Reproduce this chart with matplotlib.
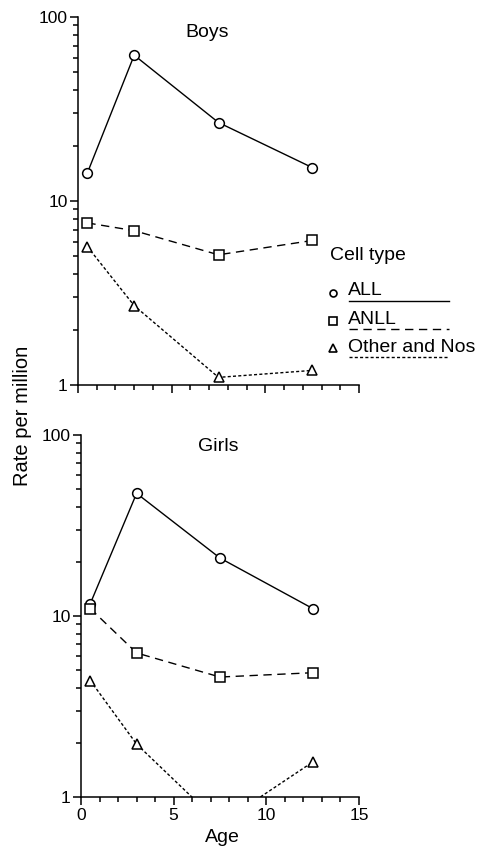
import numpy as np
import matplotlib
matplotlib.use("Agg")
import matplotlib.pyplot as plt
from matplotlib.lines import Line2D
from matplotlib.ticker import FixedLocator, NullFormatter

plt.rcParams['font.family'] = ['Liberation Sans', 'DejaVu Sans']

# data
ages = [0.5, 3, 7.5, 12.5]
cell_types = ["ALL", "ANLL", "Other and Nos"]
boys_all = [14.2, 62, 26.7, 15.2]
boys_anll = [7.6, 6.9, 5.1, 6.1]
boys_other = [5.65, 2.7, 1.1, 1.2]
girls_all = [11.7, 47.6, 20.9, 11.0]
girls_anll = [11.0, 6.25, 4.6, 4.86]
girls_other = [4.4, 1.96, 0.71, 1.56]

# marker / line style per cell type (legend marker size last)
styles = {
    "ALL": dict(marker='o', linestyle='-', lms=5),
    "ANLL": dict(marker='s', linestyle=(0, (6, 4)), lms=5.5),
    "Other and Nos": dict(marker='^', linestyle=(0, (2.2, 1.6)), lms=6),
}

W, H = 496, 849
fig = plt.figure(figsize=(W / 100, H / 100), dpi=100)

def px_axes(left, right, top, bottom):
    return fig.add_axes([left / W, 1 - bottom / H, (right - left) / W, (bottom - top) / H])

def fx(x):
    return x / W

def fy(y):
    return 1 - y / H

ax1 = px_axes(78, 359, 17, 385)
ax2 = px_axes(81, 359, 435, 797)

# title x (px), title baseline y (px)
panels = [
    (ax1, "Boys", (207, 37), [boys_all, boys_anll, boys_other]),
    (ax2, "Girls", (218, 451), [girls_all, girls_anll, girls_other]),
]

for ax, title, tpos, series in panels:
    for name, vals in zip(cell_types, series):
        st = styles[name]
        ax.plot(ages, vals, color='black', lw=1.0, marker=st['marker'],
                linestyle=st['linestyle'], ms=7, mfc='white', mec='black', mew=1.1)
    ax.set_yscale('log')
    ax.set_ylim(1, 100)
    ax.set_xlim(0, 15)
    ax.spines['top'].set_visible(False)
    ax.spines['right'].set_visible(False)
    ax.spines['left'].set_linewidth(1.1)
    ax.spines['bottom'].set_linewidth(1.1)
    ax.set_xticks([0, 5, 10, 15])
    ax.xaxis.set_minor_locator(FixedLocator(np.arange(0, 16, 1)))
    ax.set_yticks([1, 10, 100])
    ax.set_yticklabels(['1', '10', '100'])
    ax.yaxis.set_minor_formatter(NullFormatter())
    ax.tick_params(which='major', direction='out', length=6, width=1.1, labelsize=12.5, pad=1.5)
    ax.tick_params(which='minor', direction='out', length=3.5, width=1.1)
    fig.text(fx(tpos[0]), fy(tpos[1]), title, ha='center', va='baseline', fontsize=14)

ax1.set_xticklabels([])
ax2.tick_params(axis='x', which='major', pad=2)

fig.text(fx(222), fy(842), "Age", ha='center', va='baseline', fontsize=14)
fig.text(fx(23), fy(416), "Rate per million", rotation=90, ha='center', va='center', fontsize=14.5)

# legend, drawn by hand like the original
fig.text(fx(330), fy(260), "Cell type", ha='left', va='baseline', fontsize=14)
# marker y, text baseline y, line y (px)
rows = [(293, 295, 301), (321, 324, 329), (348, 352, 357)]
for name, (my, ty, ly) in zip(cell_types, rows):
    st = styles[name]
    fig.add_artist(Line2D([fx(333)], [fy(my)], marker=st['marker'], ms=st['lms'],
                          mfc='white', mec='black', mew=1.2, linestyle='none'))
    fig.text(fx(348), fy(ty), name, ha='left', va='baseline', fontsize=14)
    fig.add_artist(Line2D([fx(349), fx(449)], [fy(ly), fy(ly)], color='black',
                          lw=1.0, linestyle=st['linestyle']))

fig.savefig("out.png", dpi=100)
